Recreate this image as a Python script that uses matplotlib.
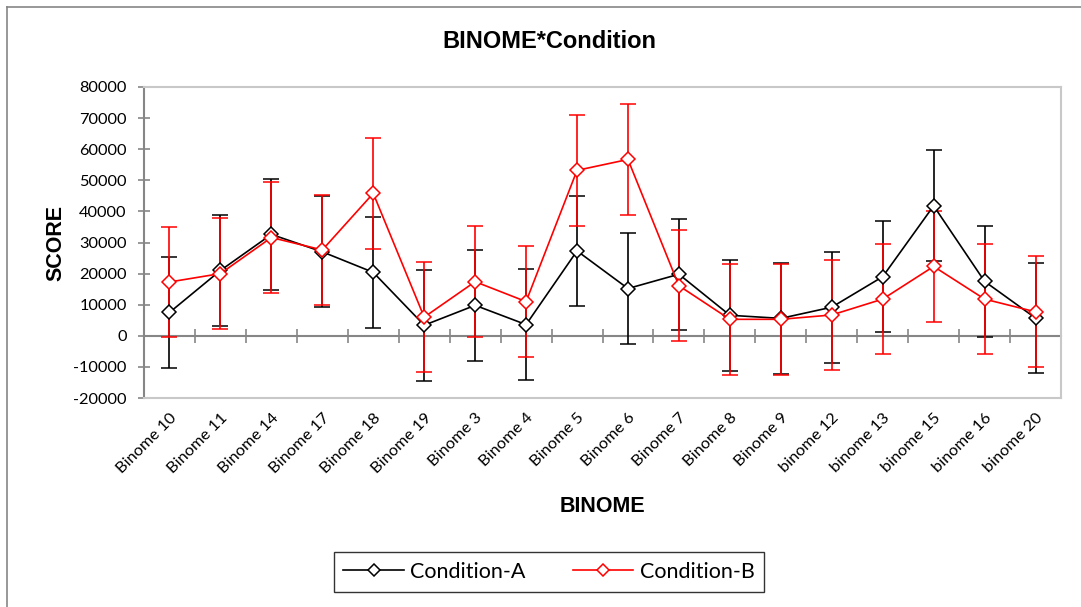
import matplotlib
matplotlib.use("Agg")
import matplotlib.pyplot as plt
from matplotlib.lines import Line2D
import numpy as np

categories = ["Binome 10", "Binome 11", "Binome 14", "Binome 17", "Binome 18", "Binome 19",
              "Binome 3", "Binome 4", "Binome 5", "Binome 6", "Binome 7", "Binome 8",
              "Binome 9", "binome 12", "binome 13", "binome 15", "binome 16", "binome 20"]
cond_a = [7500, 21000, 32600, 27000, 20400, 3400, 9800, 3600, 27300, 15200, 19800, 6600,
          5600, 9200, 19000, 41800, 17500, 5700]
cond_b = [17300, 20000, 31600, 27600, 45800, 6000, 17400, 11000, 53200, 56700, 16100, 5300,
          5300, 6700, 11800, 22300, 11800, 7700]
err_a = [17800] * len(categories)
err_b = [17800] * len(categories)
yticks = [-20000, -10000, 0, 10000, 20000, 30000, 40000, 50000, 60000, 70000, 80000]
series_names = ["Condition-A", "Condition-B"]
series_colors = ["black", "#ff0000"]

fig = plt.figure(figsize=(10.81, 6.07), dpi=100)
ax = fig.add_axes([144 / 1081, 1 - 398 / 607, (1061 - 144) / 1081, (398 - 87) / 607])

x = np.arange(len(categories))
tick_font = "Lato"
for vals, errs, col, lab in zip([cond_a, cond_b], [err_a, err_b], series_colors, series_names):
    ax.errorbar(x, vals, yerr=errs, color=col, ecolor=col, elinewidth=1.2, capsize=5.5,
                capthick=1.2, lw=1.2, marker="D", ms=7.2, mfc="white", mec=col, mew=1.1,
                label=lab)

ax.set_xlim(-0.5, len(categories) - 0.5)
ax.set_ylim(-20000, 80000)
ax.set_yticks(yticks)
ax.set_yticklabels([str(v) for v in yticks], fontsize=11.8, family=tick_font)
ax.tick_params(axis="y", direction="inout", length=9, width=1.2, color="#868686", pad=8)
ax.set_xticks(x)
ax.set_xticklabels(categories, rotation=45, ha="right", va="top", rotation_mode="anchor",
                   fontsize=11.8, family=tick_font)
ax.tick_params(axis="x", length=0, pad=9)
for s in ["top", "right", "bottom"]:
    ax.spines[s].set_color("#c8c8c8")
    ax.spines[s].set_linewidth(1.5)
ax.spines["left"].set_color("#868686")
ax.spines["left"].set_linewidth(1.5)

# zero axis line with category boundary ticks
zero_loc = (0 - (-20000)) / (80000 - (-20000))
sec = ax.secondary_xaxis(zero_loc)
sec.set_xticks(np.arange(len(categories) + 1) - 0.5)
sec.set_xticklabels([])
sec.tick_params(direction="inout", length=10, width=1.2, color="#868686")
sec.spines["bottom"].set_color("#868686")
sec.spines["bottom"].set_linewidth(1.5)

fig.text(549 / 1081, 1 - 42 / 607, "BINOME*Condition", ha="center", va="center",
         fontsize=17, fontweight="bold", family="Liberation Sans")
fig.text(56 / 1081, 1 - 243 / 607, "SCORE", ha="center", va="center", rotation=90,
         fontsize=15.5, fontweight="bold", family="Liberation Sans")
fig.text(602 / 1081, 1 - 506 / 607, "BINOME", ha="center", va="center",
         fontsize=15.5, fontweight="bold", family="Liberation Sans")

handles = [Line2D([], [], color=c, lw=1.2, marker="D", ms=6.5, mfc="white", mec=c, mew=1.1)
           for c in series_colors]
leg = fig.legend(handles, series_names, loc="center",
                 bbox_to_anchor=(549 / 1081, 1 - 572 / 607), ncol=2,
                 frameon=True, fancybox=False, edgecolor="black",
                 prop={"family": tick_font, "size": 15.5}, handlelength=2.8,
                 columnspacing=2.2, borderpad=0.45, handletextpad=0.3, borderaxespad=0)
leg.get_frame().set_linewidth(1.0)

# outer chart-area border (left and top edges visible)
fig.add_artist(Line2D([7 / 1081, 7 / 1081], [0, 1 - 7 / 607], transform=fig.transFigure,
                      color="#868686", lw=1.2))
fig.add_artist(Line2D([7 / 1081, 1], [1 - 7 / 607, 1 - 7 / 607], transform=fig.transFigure,
                      color="#868686", lw=1.2))

fig.savefig("out.png", dpi=100, facecolor="white")
